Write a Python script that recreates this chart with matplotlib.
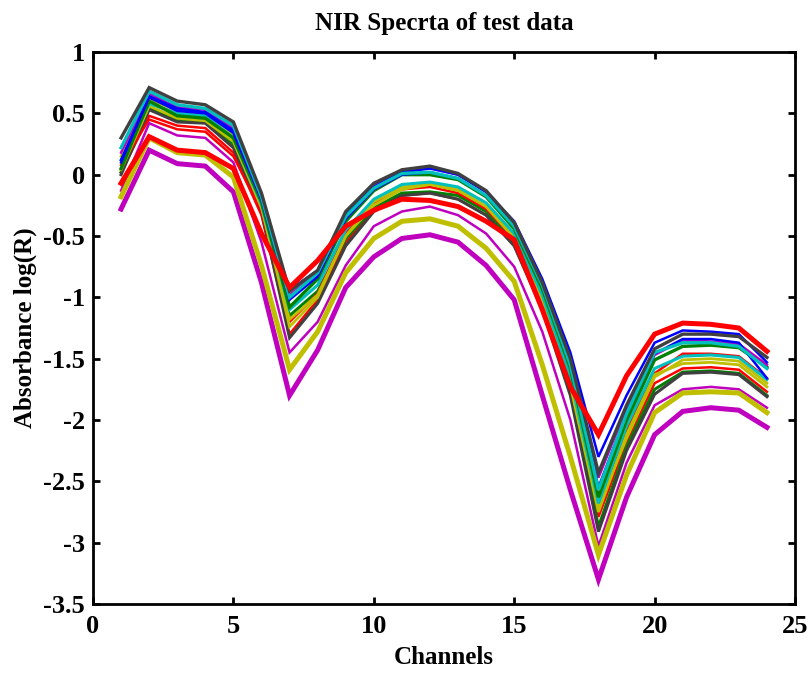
import matplotlib
matplotlib.use("Agg")
import matplotlib.pyplot as plt

channels = list(range(1, 25))

gray_top = [0.30, 0.71, 0.60, 0.57, 0.43, -0.15, -0.95, -0.78, -0.30, -0.07, 0.04, 0.07, 0.01, -0.13, -0.39, -0.88, -1.50, -2.43, -1.88, -1.42, -1.30, -1.30, -1.32, -1.49]
cyan_top = [0.22, 0.68, 0.57, 0.54, 0.40, -0.18, -1.00, -0.80, -0.34, -0.11, 0.01, 0.02, -0.03, -0.17, -0.42, -0.90, -1.55, -2.57, -1.95, -1.45, -1.37, -1.37, -1.40, -1.58]
blue_a = [0.10, 0.64, 0.54, 0.51, 0.36, -0.20, -0.94, -0.78, -0.32, -0.10, 0.02, 0.05, 0.00, -0.14, -0.38, -0.85, -1.45, -2.30, -1.80, -1.37, -1.27, -1.28, -1.30, -1.53]
blue_b = [0.12, 0.63, 0.52, 0.50, 0.34, -0.20, -1.02, -0.83, -0.36, -0.12, 0.00, 0.02, -0.03, -0.17, -0.42, -0.90, -1.52, -2.55, -1.95, -1.46, -1.34, -1.34, -1.37, -1.66]
green_a = [0.05, 0.60, 0.48, 0.46, 0.30, -0.22, -1.08, -0.85, -0.38, -0.13, 0.00, 0.00, -0.04, -0.18, -0.44, -0.93, -1.58, -2.63, -2.00, -1.51, -1.40, -1.39, -1.41, -1.57]
magenta_a = [0.18, 0.66, 0.55, 0.53, 0.38, -0.17, -0.98, -0.80, -0.31, -0.08, 0.03, 0.06, 0.00, -0.14, -0.40, -0.90, -1.55, -2.47, -1.90, -1.47, -1.35, -1.36, -1.38, -1.55]
cyan_b = [0.12, 0.58, 0.50, 0.48, 0.30, -0.24, -1.10, -0.90, -0.45, -0.20, -0.08, -0.06, -0.10, -0.23, -0.48, -0.98, -1.65, -2.68, -2.05, -1.58, -1.48, -1.47, -1.49, -1.67]
yellow_a = [0.15, 0.62, 0.52, 0.50, 0.33, -0.25, -1.24, -1.00, -0.50, -0.25, -0.12, -0.08, -0.13, -0.26, -0.50, -1.00, -1.70, -2.71, -2.15, -1.65, -1.51, -1.50, -1.52, -1.70]
yellow_b = [0.04, 0.56, 0.46, 0.44, 0.27, -0.27, -1.18, -0.98, -0.50, -0.22, -0.10, -0.08, -0.12, -0.26, -0.52, -1.02, -1.72, -2.75, -2.12, -1.63, -1.54, -1.53, -1.55, -1.73]
red_a = [0.08, 0.45, 0.37, 0.35, 0.15, -0.30, -1.20, -0.97, -0.48, -0.23, -0.12, -0.10, -0.15, -0.28, -0.52, -1.02, -1.70, -2.68, -2.08, -1.62, -1.46, -1.46, -1.48, -1.66]
red_b = [0.02, 0.48, 0.40, 0.38, 0.18, -0.33, -1.30, -1.02, -0.55, -0.28, -0.17, -0.15, -0.20, -0.33, -0.58, -1.08, -1.78, -2.79, -2.18, -1.70, -1.58, -1.57, -1.59, -1.77]
green_b = [0.02, 0.55, 0.45, 0.43, 0.25, -0.28, -1.15, -0.95, -0.52, -0.27, -0.15, -0.14, -0.17, -0.30, -0.55, -1.05, -1.75, -2.87, -2.22, -1.75, -1.61, -1.60, -1.62, -1.80]
gray_b = [0.00, 0.53, 0.43, 0.42, 0.22, -0.30, -1.33, -1.05, -0.58, -0.30, -0.17, -0.15, -0.20, -0.33, -0.58, -1.10, -1.80, -2.91, -2.25, -1.79, -1.62, -1.61, -1.63, -1.81]
magenta_b = [-0.13, 0.42, 0.32, 0.30, 0.10, -0.55, -1.45, -1.20, -0.74, -0.42, -0.30, -0.26, -0.33, -0.48, -0.75, -1.28, -2.00, -3.03, -2.35, -1.88, -1.75, -1.73, -1.75, -1.90]
red_thick = [-0.07, 0.31, 0.20, 0.18, 0.05, -0.48, -0.92, -0.70, -0.42, -0.29, -0.20, -0.21, -0.26, -0.38, -0.53, -1.10, -1.73, -2.12, -1.64, -1.30, -1.21, -1.22, -1.25, -1.44]
yellow_thick = [-0.18, 0.30, 0.18, 0.16, -0.02, -0.74, -1.59, -1.28, -0.80, -0.52, -0.38, -0.36, -0.42, -0.60, -0.87, -1.55, -2.30, -3.10, -2.45, -1.94, -1.78, -1.77, -1.78, -1.94]
magenta_thick = [-0.28, 0.20, 0.09, 0.07, -0.14, -0.88, -1.80, -1.43, -0.92, -0.67, -0.52, -0.49, -0.55, -0.74, -1.02, -1.80, -2.57, -3.30, -2.63, -2.12, -1.93, -1.90, -1.92, -2.06]

B = (0, 0, 1)
G = (0, 0.5, 0)
R = (1, 0, 0)
C = (0, 0.75, 0.75)
M = (0.75, 0, 0.75)
Y = (0.75, 0.75, 0)
K = (0.25, 0.25, 0.25)

series = [
    (red_b, R, 1.8), (green_b, G, 2.2), (gray_b, K, 2.2), (red_a, R, 1.8),
    (yellow_b, Y, 2.0), (yellow_a, Y, 2.0), (cyan_b, C, 2.2), (magenta_b, M, 1.8),
    (green_a, G, 2.4), (magenta_a, M, 1.8), (blue_b, B, 1.8), (blue_a, B, 1.8),
    (cyan_top, C, 2.4), (gray_top, K, 2.4),
    (magenta_thick, M, 3.6), (yellow_thick, Y, 3.6), (red_thick, R, 3.6),
]

plt.rcParams['font.family'] = ['Liberation Serif', 'DejaVu Serif']
plt.rcParams['font.weight'] = 'bold'

fig = plt.figure(figsize=(8.1, 6.74), dpi=100)
ax = fig.add_axes([0.1148, 0.1039, 0.8667, 0.8189])

for vals, col, lw in series:
    ax.plot(channels, vals, color=col, linewidth=lw, solid_joinstyle='miter')

ax.set_xlim(0, 25)
ax.set_ylim(-3.5, 1)
ax.set_xticks([0, 5, 10, 15, 20, 25])
ax.set_yticks([-3.5, -3, -2.5, -2, -1.5, -1, -0.5, 0, 0.5, 1])
ax.set_yticklabels(['-3.5', '-3', '-2.5', '-2', '-1.5', '-1', '-0.5', '0', '0.5', '1'])
ax.tick_params(direction='in', length=5, width=2, top=True, right=True,
               labelsize=19)
ax.tick_params(axis='x', pad=8)
ax.tick_params(axis='y', pad=6)
for lab in ax.get_xticklabels() + ax.get_yticklabels():
    lab.set_fontweight('bold')
for sp in ax.spines.values():
    sp.set_linewidth(2)

ax.set_title('NIR Specrta of test data', fontsize=18, fontweight='bold', pad=16)
ax.set_xlabel('Channels', fontsize=18, fontweight='bold', labelpad=6)
ax.set_ylabel('Absorbance log(R)', fontsize=18, fontweight='bold', labelpad=4)

fig.savefig('out.png', dpi=100)
